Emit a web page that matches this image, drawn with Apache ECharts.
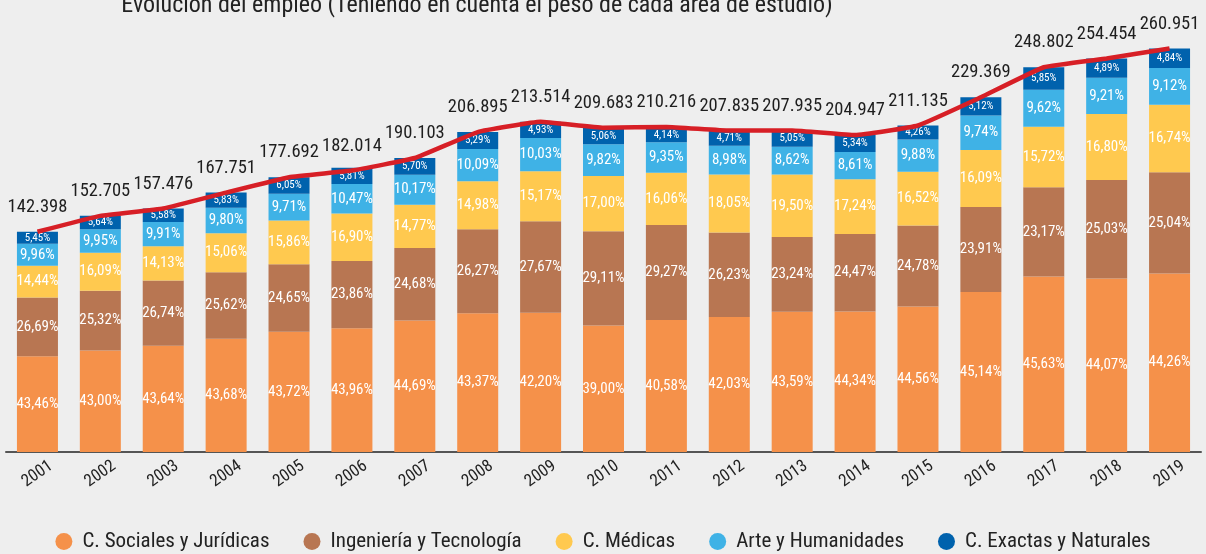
<!DOCTYPE html>
<html><head><meta charset="utf-8">
<script src="https://cdn.jsdelivr.net/npm/echarts@6/dist/echarts.min.js"></script>
<style>html,body{margin:0;padding:0;background:#eeeeee}#c{width:1206px;height:554px}</style>
</head><body><div id="c"></div>
<script>
const years = ['2001','2002','2003','2004','2005','2006','2007','2008','2009','2010','2011','2012','2013','2014','2015','2016','2017','2018','2019'];
const totals = [142398,152705,157476,167751,177692,182014,190103,206895,213514,209683,210216,207835,207935,204947,211135,229369,248802,254454,260951];
const pctSociales = [43.46,43.00,43.64,43.68,43.72,43.96,44.69,43.37,42.20,39.00,40.58,42.03,43.59,44.34,44.56,45.14,45.63,44.07,44.26];
const pctIngenieria = [26.69,25.32,26.74,25.62,24.65,23.86,24.68,26.27,27.67,29.11,29.27,26.23,23.24,24.47,24.78,23.91,23.17,25.03,25.04];
const pctMedicas = [14.44,16.09,14.13,15.06,15.86,16.90,14.77,14.98,15.17,17.00,16.06,18.05,19.50,17.24,16.52,16.09,15.72,16.80,16.74];
const pctArte = [9.96,9.95,9.91,9.80,9.71,10.47,10.17,10.09,10.03,9.82,9.35,8.98,8.62,8.61,9.88,9.74,9.62,9.21,9.12];
const pctExactas = [5.45,5.64,5.58,5.83,6.05,5.81,5.70,5.29,4.93,5.06,4.14,4.71,5.05,5.34,4.26,5.12,5.85,4.89,4.84];
const seriesNames = ['C. Sociales y Jurídicas','Ingeniería y Tecnología','C. Médicas','Arte y Humanidades','C. Exactas y Naturales'];

const FONT = '"Liberation Sans Narrow","Roboto Condensed","Roboto",sans-serif';
const colors = ['#F5914A','#B87652','#FFC94F','#3FB2E6','#0062AD'];
const pcts = [pctSociales,pctIngenieria,pctMedicas,pctArte,pctExactas];
const fmtPct = v => v.toFixed(2).replace('.', ',') + '%';
const fmtTot = v => String(v).replace(/\B(?=(\d{3})+(?!\d))/g, '.');

const barSeries = pcts.map((p, i) => ({
  name: seriesNames[i],
  type: 'bar',
  stack: 'total',
  barWidth: 41,
  itemStyle: { color: colors[i] },
  data: p.map((v, j) => ({ value: totals[j] * v / 100, pct: v })),
  label: {
    show: true,
    position: 'inside',
    color: '#ffffff',
    fontFamily: FONT,
    fontSize: i === 4 ? 11 : 15,
    formatter: prm => fmtPct(prm.data.pct)
  }
}));

const chart = echarts.init(document.getElementById('c'));
chart.setOption({
  backgroundColor: '#eeeeee',
  animation: false,
  title: {
    text: 'Evolución del empleo (Teniendo en cuenta el peso de cada área de estudio)',
    left: 472, top: -11, textAlign: 'center',
    textStyle: { fontFamily: FONT, fontSize: 24, fontWeight: 'normal', color: '#222' }
  },
  grid: { left: 6, right: 5, top: 19, bottom: 102 },
  legend: {
    bottom: -3, left: 'center', itemGap: 34, itemWidth: 17, itemHeight: 17,
    icon: 'circle',
    data: seriesNames,
    textStyle: { fontFamily: FONT, fontSize: 21, color: '#222', padding: [0, 0, 0, 5] }
  },
  xAxis: {
    type: 'category', data: years,
    axisLine: { lineStyle: { color: '#555', width: 2 } },
    axisTick: { alignWithLabel: true, length: 6, lineStyle: { color: '#555', width: 1.5 } },
    axisLabel: { rotate: 35, align: 'center', verticalAlign: 'middle', fontFamily: FONT, fontSize: 17, color: '#222', margin: 22 }
  },
  yAxis: { type: 'value', min: 0, max: 280000, show: false, splitLine: { show: false } },
  series: barSeries.concat([{
    name: 'Total', type: 'line', data: totals, smooth: 0.1,
    symbol: 'circle', symbolSize: 0.1, showSymbol: true, itemStyle: { color: '#D71F26' },
    lineStyle: { color: '#D71F26', width: 4.5 }, z: 10,
    label: {
      show: true, position: 'top', distance: 15, color: '#1e1e1e', fontFamily: FONT, fontSize: 18.5,
      formatter: prm => fmtTot(prm.value)
    }
  }])
});
</script></body></html>
